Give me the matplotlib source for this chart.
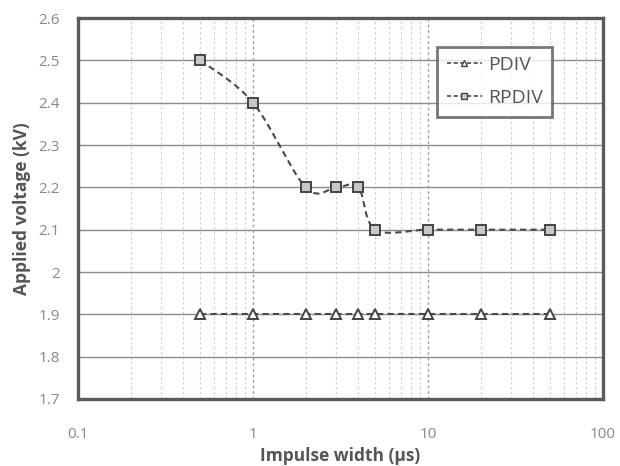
import numpy as np
import matplotlib
matplotlib.use("Agg")
import matplotlib.pyplot as plt
from matplotlib.ticker import FixedLocator, LogLocator, NullFormatter

widths = [0.5, 1, 2, 3, 4, 5, 10, 20, 50]
pdiv = [1.9, 1.9, 1.9, 1.9, 1.9, 1.9, 1.9, 1.9, 1.9]
rpdiv = [2.5, 2.4, 2.2, 2.2, 2.2, 2.1, 2.1, 2.1, 2.1]
x_ticks = [0.1, 1, 10, 100]
x_tick_labels = ["0.1", "1", "10", "100"]
y_ticks = [1.7, 1.8, 1.9, 2.0, 2.1, 2.2, 2.3, 2.4, 2.5, 2.6]
y_tick_labels = ["1.7", "1.8", "1.9", "2", "2.1", "2.2", "2.3", "2.4", "2.5", "2.6"]


def smooth(xs, ys, n=30):
    # Excel-style smoothing (Catmull-Rom Bezier) in log-x space
    lx = np.log10(np.asarray(xs, float))
    y = np.asarray(ys, float)
    px = np.concatenate([[lx[0]], lx, [lx[-1]]])
    py = np.concatenate([[y[0]], y, [y[-1]]])
    ox, oy = [], []
    for i in range(1, len(px) - 2):
        p0 = np.array([px[i], py[i]])
        p3 = np.array([px[i + 1], py[i + 1]])
        c1 = p0 + (np.array([px[i + 1], py[i + 1]]) - np.array([px[i - 1], py[i - 1]])) / 6
        c2 = p3 - (np.array([px[i + 2], py[i + 2]]) - np.array([px[i], py[i]])) / 6
        t = np.linspace(0, 1, n)[:, None]
        b = (1 - t) ** 3 * p0 + 3 * (1 - t) ** 2 * t * c1 + 3 * (1 - t) * t ** 2 * c2 + t ** 3 * p3
        ox.extend(b[:, 0]); oy.extend(b[:, 1])
    return 10 ** np.array(ox), np.array(oy)


plt.rcParams['font.family'] = ['Open Sans', 'DejaVu Sans']
fig = plt.figure(figsize=(6.2, 4.66), dpi=100)
ax = fig.add_axes([78 / 620, 1 - 399 / 466, (603 - 78) / 620, (399 - 18) / 466])

lc = '#4a4a4a'
sx, sy = smooth(widths, pdiv)
ax.plot(sx, sy, color=lc, lw=1.5, dashes=(3, 2), zorder=3)
sx, sy = smooth(widths, rpdiv)
ax.plot(sx, sy, color=lc, lw=1.5, dashes=(3, 2), zorder=3)
ax.plot(widths, pdiv, linestyle='none', marker='^', ms=6.5, mfc='white', mec='#444444', mew=1.4, zorder=4)
ax.plot(widths, rpdiv, linestyle='none', marker='s', ms=6.5, mfc='#c8c8c8', mec='#444444', mew=1.4, zorder=4)

# legend proxies
h1, = ax.plot([], [], color=lc, lw=1.2, dashes=(2.5, 1.5), marker='^', ms=5, mfc='white', mec='#444444')
h2, = ax.plot([], [], color=lc, lw=1.2, dashes=(2.5, 1.5), marker='s', ms=5, mfc='#c8c8c8', mec='#444444')
leg = ax.legend([h1, h2], ['PDIV', 'RPDIV'], loc='upper left', bbox_to_anchor=(0.684, 0.925),
                borderaxespad=0, fontsize=14, frameon=True, fancybox=False, shadow=False,
                handlelength=1.8, labelspacing=0.75, borderpad=0.5, handletextpad=0.3,
                labelcolor='#555555')
leg.get_frame().set_edgecolor('#555555')
leg.get_frame().set_linewidth(2.0)

ax.set_xscale('log')
ax.set_xlim(0.1, 100)
ax.set_ylim(1.7, 2.6)
ax.xaxis.set_major_locator(FixedLocator(x_ticks))
ax.set_xticklabels(x_tick_labels)
ax.xaxis.set_minor_locator(LogLocator(base=10, subs=np.arange(2, 10)))
ax.xaxis.set_minor_formatter(NullFormatter())
ax.set_yticks(y_ticks)
ax.set_yticklabels(y_tick_labels)

ax.grid(True, which='major', axis='y', color='#8c8c8c', lw=1.0)
ax.grid(True, which='major', axis='x', color='#a0a0a0', lw=1.0, ls=(0, (2, 2)))
ax.grid(True, which='minor', axis='x', color='#d0d0d0', lw=0.9, ls=(0, (2, 2)))

for s in ax.spines.values():
    s.set_color('#5a5a5a')
    s.set_linewidth(2.4)
ax.tick_params(axis='both', which='both', length=0, labelsize=11, colors='#888888')
ax.tick_params(axis='y', pad=13)
ax.tick_params(axis='x', pad=20)

ax.set_xlabel('Impulse width (µs)', fontsize=12.5, fontweight='bold', color='#555555', labelpad=4)
ax.set_ylabel('Applied voltage (kV)', fontsize=12.5, fontweight='bold', color='#555555', labelpad=5)

fig.savefig('out.png', dpi=100)
